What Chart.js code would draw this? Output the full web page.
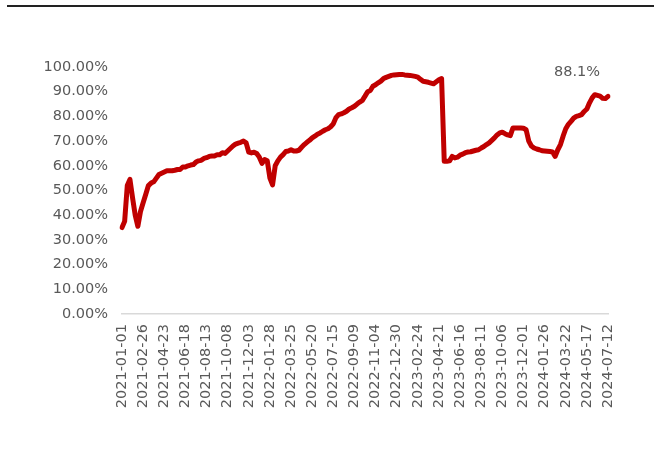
<!DOCTYPE html>
<html>
<head>
<meta charset="utf-8">
<script src="https://cdn.jsdelivr.net/npm/chart.js@4.4.1/dist/chart.umd.min.js"></script>
<style>
  html, body { margin: 0; padding: 0; background: #fff; }
  #wrap { position: relative; width: 654px; height: 461px; }
  #topline { position: absolute; left: 7px; top: 5px; width: 647px; height: 0; border-top: 2px solid #222; }
</style>
</head>
<body>
<div id="wrap">
  <div id="topline"></div>
  <canvas id="chart" width="654" height="461"></canvas>
</div>
<script>
// weekly series, first week 2021-01-01
const startDate = '2021-01-01';

const values2021 = [
  35, 37.5, 52, 54.5, 47, 40, 35.5, 41.5, 45, 48.5,
  52, 53, 53.5, 55, 56.5, 57, 57.5, 58, 58, 58,
  58.2, 58.5, 58.5, 59.5, 59.5, 60, 60.3, 60.5, 61.5, 62,
  62.2, 63, 63.3, 63.8, 64, 64, 64.5, 64.5, 65.3, 65,
  66, 67, 68, 68.8, 69.2, 69.5, 70, 69.3, 65.5, 65.2,
  65.5, 65, 63.5
];
const values2022 = [
  61, 62.5, 62, 55, 52.3, 60, 62,
  63.5, 64.5, 65.8, 66, 66.5, 66, 66, 66.3, 67.5, 68.6,
  69.5, 70.3, 71.3, 72, 72.8, 73.3, 74, 74.6, 75, 75.8,
  77, 79.5, 80.7, 81, 81.5, 82.1, 83, 83.5, 84.1, 85,
  85.8, 86.5, 88.2, 90, 90.5, 92.2, 92.8, 93.6, 94.3, 95.3,
  95.8, 96.2, 96.6, 96.8, 96.9
];
const values2023 = [
  97, 97, 96.8, 96.7, 96.6,
  96.4, 96.2, 95.9, 95, 94.2, 94, 93.8, 93.5, 93.2, 94,
  94.8, 95.3, 61.8, 61.8, 62, 63.8, 63.2, 63.5, 64.3, 64.7,
  65.3, 65.6, 65.7, 66, 66.3, 66.5, 67.2, 67.8, 68.6, 69.3,
  70.3, 71.3, 72.5, 73.3, 73.6, 73, 72.5, 72.2, 75.3, 75.3,
  75.3, 75.3, 75.2, 74.6, 70, 68, 67.2
];
const values2024 = [
  66.8, 66.5, 66.1,
  66, 65.9, 65.8, 65.6, 63.8, 66.5, 68.6, 72, 75, 76.8,
  78, 79.3, 80, 80.3, 80.7, 82, 83, 85.5, 87.5, 88.8,
  88.5, 88.2, 87.3, 87.2, 88.1
];
const tickEvery = 8; // one label every 8 weeks
const lastLabel = '88.1%';

const values = [].concat(values2021, values2022, values2023, values2024);

// weekly date labels
const t0 = Date.parse(startDate + 'T00:00:00Z');
const labels = values.map((v, i) => new Date(t0 + i * 7 * 86400000).toISOString().slice(0, 10));

const textColor = '#595959';
const font = { family: 'DejaVu Sans', size: 14.5 };

// text beside the last point
const lastValuePlugin = {
  id: 'lastValue',
  afterDatasetsDraw(chart) {
    const { ctx, scales } = chart;
    const i = values.length - 1;
    const x = scales.x.getPixelForValue(i) - 31;
    const y = scales.y.getPixelForValue(values[i]) - 24;
    ctx.save();
    ctx.font = '14.5px "DejaVu Sans"';
    ctx.fillStyle = textColor;
    ctx.textAlign = 'center';
    ctx.textBaseline = 'middle';
    ctx.fillText(lastLabel, x, y);
    ctx.restore();
  }
};

const ctx = document.getElementById('chart').getContext('2d');
new Chart(ctx, {
  type: 'line',
  data: {
    labels: labels,
    datasets: [{
      data: values,
      borderColor: '#C00000',
      borderWidth: 5,
      pointRadius: 0,
      tension: 0,
      borderJoinStyle: 'round',
      borderCapStyle: 'round',
    }],
  },
  options: {
    responsive: false,
    animation: false,
    layout: { padding: { top: 67, right: 46, left: 0, bottom: 0 } },
    plugins: {
      legend: { display: false },
      tooltip: { enabled: false },
    },
    scales: {
      x: {
        grid: { display: false, drawTicks: false },
        border: { display: true, color: '#D9D9D9', width: 1.5 },
        afterFit(scale) { scale.height = 147; },
        ticks: {
          autoSkip: false,
          minRotation: 90,
          maxRotation: 90,
          padding: 10,
          color: textColor,
          font: font,
          callback(value, index) {
            return index % tickEvery === 0 ? this.getLabelForValue(value) : null;
          },
        },
      },
      y: {
        min: 0,
        max: 100,
        grid: { display: false, drawTicks: false },
        border: { display: false },
        afterFit(scale) { scale.width = 122; },
        ticks: {
          stepSize: 10,
          padding: 14,
          color: textColor,
          font: font,
          callback: (v) => v.toFixed(2) + '%',
        },
      },
    },
  },
  plugins: [lastValuePlugin],
});
</script>
</body>
</html>
